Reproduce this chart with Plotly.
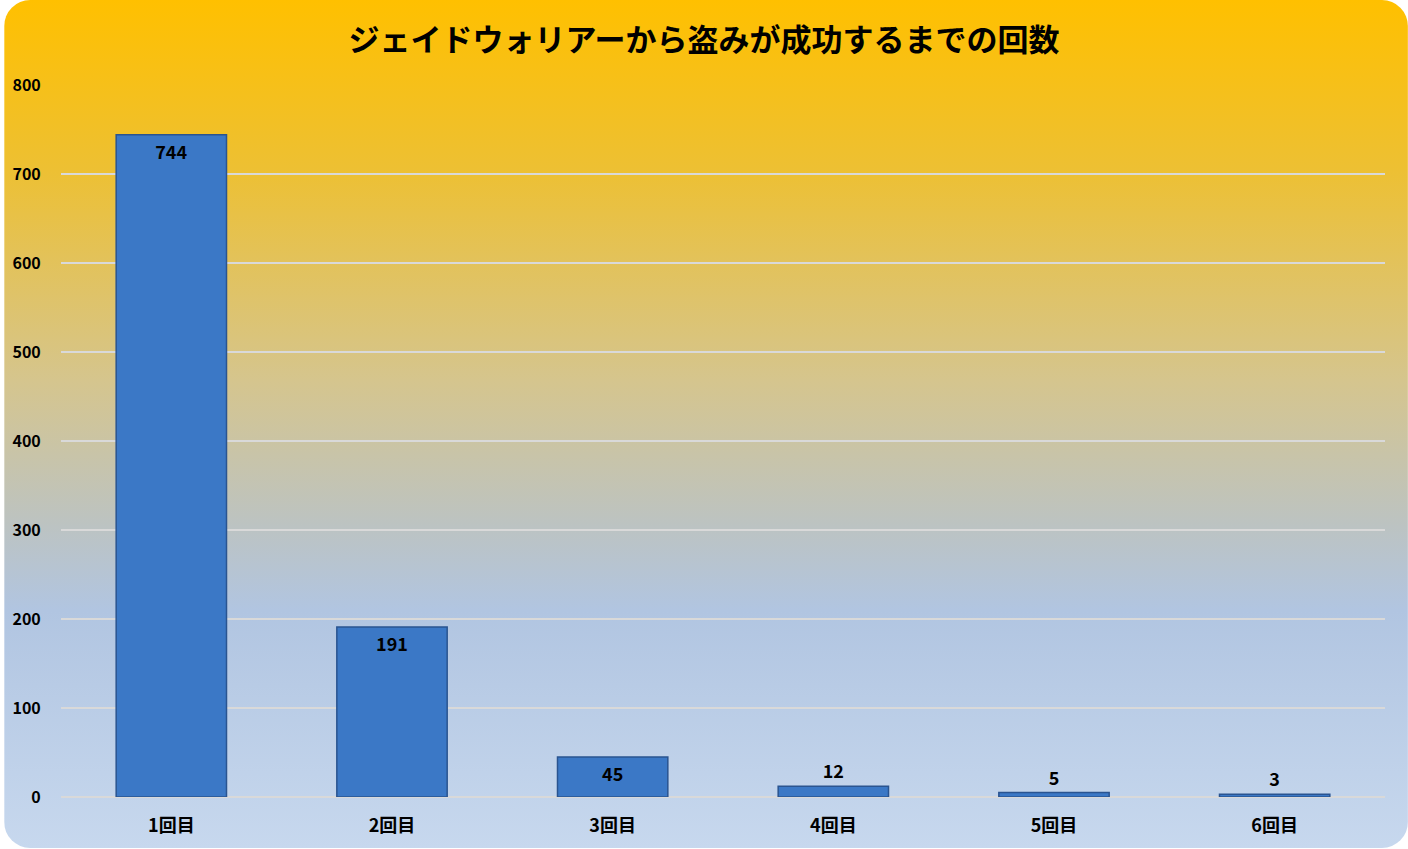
import plotly.graph_objects as go
import urllib.parse

categories = ["1回目", "2回目", "3回目", "4回目", "5回目", "6回目"]
counts = [744, 191, 45, 12, 5, 3]
y_ticks = [0, 100, 200, 300, 400, 500, 600, 700, 800]
title_text = "ジェイドウォリアーから盗みが成功するまでの回数"

W, H = 1408, 849
L, R, T, B = 57, 23, 85, 51
pw, ph = W - L - R, H - T - B

svg = f'''<svg xmlns="http://www.w3.org/2000/svg" width="{W}" height="{H}" viewBox="0 0 {W} {H}" preserveAspectRatio="none">
<defs><linearGradient id="g" x1="0" y1="0" x2="0" y2="1">
<stop offset="0" stop-color="#FFC000"/>
<stop offset="0.2" stop-color="#EDC033"/>
<stop offset="0.45" stop-color="#D5C58E"/>
<stop offset="0.62" stop-color="#BCC3C2"/>
<stop offset="0.72" stop-color="#B1C5E1"/>
<stop offset="1" stop-color="#C7D8EE"/>
</linearGradient></defs>
<rect x="0" y="0" width="{W}" height="{H}" rx="26" ry="26" fill="url(#g)"/>
</svg>'''
src = "data:image/svg+xml;charset=utf-8," + urllib.parse.quote(svg)

font = "Noto Sans CJK JP, Noto Sans, sans-serif"
positions = ["inside" if v >= 40 else "outside" for v in counts]

fig = go.Figure(go.Bar(
    x=categories, y=counts,
    text=[str(v) for v in counts],
    textposition=positions,
    insidetextanchor="end",
    textangle=0,
    cliponaxis=False,
    textfont=dict(family=font, size=18, color="black", weight="bold"),
    marker=dict(color="#3B78C6", line=dict(color="#2A5490", width=1.5)),
))

fig.update_layout(
    width=W, height=H,
    margin=dict(l=L, r=R, t=T, b=B, pad=0),
    paper_bgcolor="white",
    plot_bgcolor="rgba(0,0,0,0)",
    bargap=0.5,
    showlegend=False,
    title=dict(text=title_text, x=0.5, xref="container", xanchor="center",
               y=1 - 40 / H, yref="container", yanchor="middle",
               font=dict(family=font, size=31, color="black", weight="bold")),
    images=[dict(source=src, xref="paper", yref="paper",
                 x=-L / pw, y=1 + T / ph, sizex=W / pw, sizey=H / ph,
                 xanchor="left", yanchor="top", sizing="stretch", layer="below")],
    xaxis=dict(showgrid=False, showline=False, zeroline=False,
               ticks="outside", ticklen=12, tickcolor="rgba(0,0,0,0)",
               tickfont=dict(family=font, size=18, color="black", weight="bold")),
    yaxis=dict(range=[0, 800], tickvals=y_ticks, showgrid=True,
               gridcolor="#D9D9D9", gridwidth=1.5, zeroline=True,
               zerolinecolor="#D9D9D9", zerolinewidth=1.5, showline=False,
               ticks="outside", ticklen=16, tickcolor="rgba(0,0,0,0)",
               tickfont=dict(family=font, size=16, color="black", weight="bold")),
)

fig.write_html("out.html",
               config={"displayModeBar": False},
               post_script="document.body.style.margin='0';document.body.style.padding='0';")
